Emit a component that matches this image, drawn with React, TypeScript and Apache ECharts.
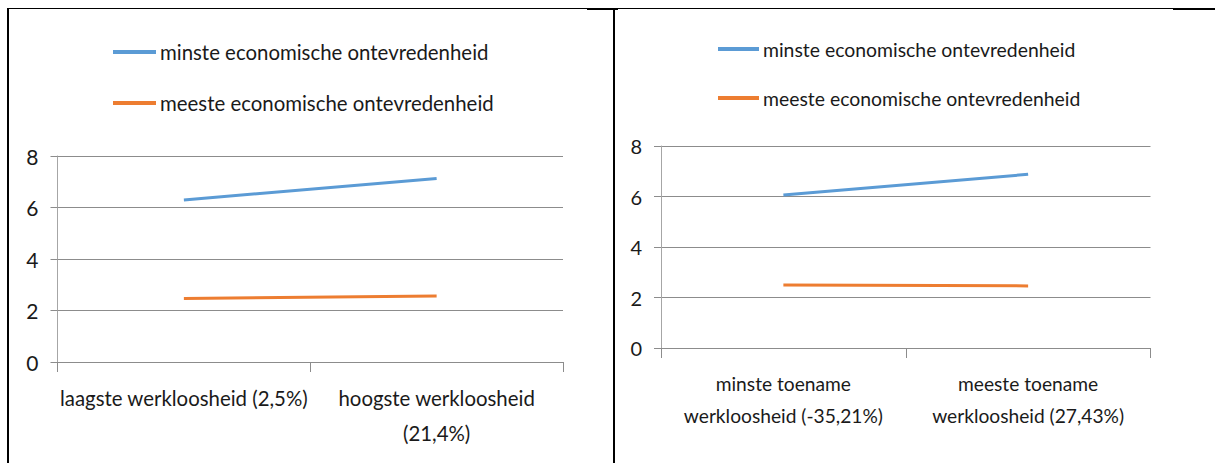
import React, { useEffect, useRef } from "react";
import * as echarts from "echarts";

const leftCategories = ["laagste werkloosheid (2,5%)", "hoogste werkloosheid\n(21,4%)"];
const rightCategories = ["minste toename\nwerkloosheid (-35,21%)", "meeste toename\nwerkloosheid (27,43%)"];
const seriesNames = ["minste economische ontevredenheid", "meeste economische ontevredenheid"];
const leftMinste = [6.29, 7.13];
const leftMeeste = [2.47, 2.56];
const rightMinste = [6.06, 6.88];
const rightMeeste = [2.5, 2.46];
const yTicks = { min: 0, max: 8, interval: 2 };

const BLUE = "#5B9BD5";
const ORANGE = "#ED7D31";
const GRID = "#8c8c8c";
const TEXT = "#1a1a1a";
const FONT = "Lato, 'Open Sans', sans-serif";

export default function App() {
  const ref = useRef<HTMLDivElement>(null);
  useEffect(() => {
    if (!ref.current) return;
    const chart = echarts.init(ref.current, null, { renderer: "svg" });
    const mkLegend = (name: string, left: number, top: number, size: number, iw: number, lh: number) => ({
      left,
      top,
      padding: 0,
      data: [name],
      icon: "rect",
      itemWidth: iw,
      itemHeight: 4,
      selectedMode: false,
      textStyle: { fontFamily: FONT, fontSize: size, color: TEXT, lineHeight: lh, padding: [0, 0, 0, -1] },
    });
    const mkX = (idx: number, cats: string[], size: number, lh: number, margin: number) => ({
      type: "category",
      gridIndex: idx,
      data: cats,
      boundaryGap: true,
      axisLine: { show: true, lineStyle: { color: GRID, width: 1 } },
      axisTick: { show: true, length: 10, lineStyle: { color: GRID } },
      axisLabel: { interval: 0, margin, fontFamily: FONT, fontSize: size, color: TEXT, lineHeight: lh },
      splitLine: { show: false },
    });
    const mkY = (idx: number, size: number) => ({
      type: "value",
      gridIndex: idx,
      min: yTicks.min,
      max: yTicks.max,
      interval: yTicks.interval,
      axisLine: { show: true, lineStyle: { color: "#a6a6a6", width: 1 } },
      axisTick: { show: true, length: 7, lineStyle: { color: GRID } },
      axisLabel: { margin: 19, fontFamily: FONT, fontSize: size, color: TEXT },
      splitLine: { show: true, lineStyle: { color: GRID, width: 1 } },
    });
    const mkSeries = (name: string, data: number[], color: string, idx: number) => ({
      type: "line",
      name,
      data,
      xAxisIndex: idx,
      yAxisIndex: idx,
      symbol: "none",
      lineStyle: { color, width: 3 },
      itemStyle: { color },
    });
    chart.setOption({
      animation: false,
      backgroundColor: "#ffffff",
      grid: [
        { left: 57.5, right: 652, top: 156, bottom: 101 },
        { left: 661, right: 64.5, top: 146, bottom: 115 },
      ],
      legend: [
        mkLegend(seriesNames[0], 113, 38, 20.4, 43, 28),
        mkLegend(seriesNames[1], 113, 89, 20.4, 43, 28),
        mkLegend(seriesNames[0], 718, 35, 19.4, 41, 28),
        mkLegend(seriesNames[1], 718, 84, 19.4, 41, 28),
      ],
      xAxis: [mkX(0, leftCategories, 20.4, 35, 18), mkX(1, rightCategories, 19.2, 32, 19)],
      yAxis: [mkY(0, 21), mkY(1, 20)],
      series: [
        mkSeries(seriesNames[0], leftMinste, BLUE, 0),
        mkSeries(seriesNames[1], leftMeeste, ORANGE, 0),
        mkSeries(seriesNames[0], rightMinste, BLUE, 1),
        mkSeries(seriesNames[1], rightMeeste, ORANGE, 1),
      ],
      graphic: [
        { type: "rect", shape: { x: 7, y: 8, width: 1208, height: 1 }, style: { fill: "#000" }, silent: true },
        { type: "rect", shape: { x: 587, y: 8, width: 31, height: 2 }, style: { fill: "#000" }, silent: true },
        { type: "rect", shape: { x: 1173, y: 8, width: 42, height: 2 }, style: { fill: "#000" }, silent: true },
        { type: "rect", shape: { x: 7, y: 8, width: 2, height: 455 }, style: { fill: "#000" }, silent: true },
        { type: "rect", shape: { x: 613, y: 8, width: 2, height: 455 }, style: { fill: "#000" }, silent: true },
      ],
    });
    return () => chart.dispose();
  }, []);
  return (
    <div
      ref={ref}
      style={{ position: "fixed", left: 0, top: 0, width: 1215, height: 463, background: "#fff" }}
    />
  );
}
